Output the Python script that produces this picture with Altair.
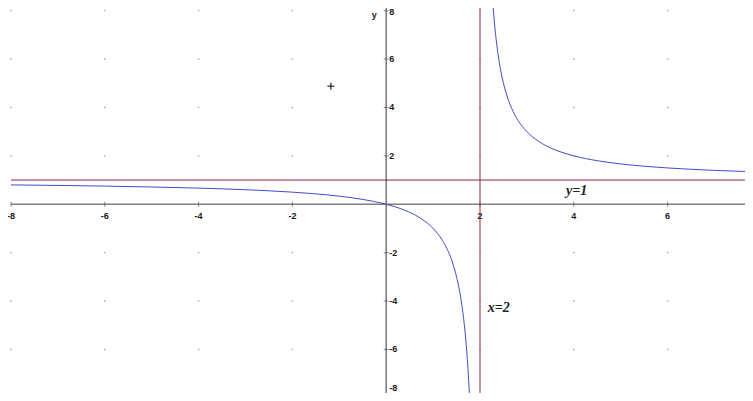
import altair as alt
import pandas as pd

# ---- data ----
left_x = [-8, -7, -6, -5, -4, -3, -2, -1.5, -1, -0.5, 0, 0.25, 0.5, 0.75, 1.0, 1.2, 1.4, 1.5,
          1.6, 1.65, 1.7, 1.73, 1.76, 1.78]
left_y = [0.8, 0.778, 0.75, 0.714, 0.667, 0.6, 0.5, 0.429, 0.333, 0.2, 0.0, -0.143, -0.333, -0.6,
          -1.0, -1.5, -2.333, -3.0, -4.0, -4.714, -5.667, -6.407, -7.333, -8.09]
right_x = [2.28, 2.3, 2.33, 2.36, 2.4, 2.45, 2.5, 2.6, 2.75, 3.0, 3.25, 3.5, 4.0, 4.5, 5.0, 5.5,
           6.0, 6.5, 7.0, 7.65]
right_y = [8.14, 7.667, 7.061, 6.556, 6.0, 5.444, 5.0, 4.333, 3.667, 3.0, 2.6, 2.333, 2.0, 1.8,
           1.667, 1.571, 1.5, 1.444, 1.4, 1.354]
x_ticks = [-8, -6, -4, -2, 2, 4, 6]
y_ticks = [-8, -6, -4, -2, 2, 4, 6, 8]
asym_h = 1
asym_v = 2
marker = (-1.18, 4.88)
notes = [("y=1", 4.06, 0.54), ("x=2", 2.40, -4.30)]

XMIN, XMAX = -8.064, 7.65
YMIN, YMAX = -7.80, 8.11

xs = alt.Scale(domain=[XMIN, XMAX], nice=False, zero=False)
ys = alt.Scale(domain=[YMIN, YMAX], nice=False, zero=False)


def X(f="x"):
    return alt.X(f"{f}:Q", scale=xs, axis=None)


def Y(f="y"):
    return alt.Y(f"{f}:Q", scale=ys, axis=None)


grid = pd.DataFrame([{"x": gx, "y": gy} for gx in x_ticks for gy in y_ticks])
curve = pd.DataFrame(
    [{"x": a, "y": b, "branch": "L", "o": i} for i, (a, b) in enumerate(zip(left_x, left_y))]
    + [{"x": a, "y": b, "branch": "R", "o": i} for i, (a, b) in enumerate(zip(right_x, right_y))]
)
xt = pd.DataFrame({"x": x_ticks, "y": [0] * len(x_ticks), "t": [str(v) for v in x_ticks]})
yt = pd.DataFrame({"x": [0] * len(y_ticks), "y": y_ticks, "t": [str(v) for v in y_ticks]})
# labels: inner ones centred on their tick, edge ones kept inside the view
yt_mid = yt[(yt.y > YMIN) & (yt.y < YMAX - 0.3)]
yt_top = yt[yt.y >= YMAX - 0.3]
yt_bot = yt[yt.y <= YMIN].assign(y=lambda d: d.y.clip(lower=YMIN))

dots = alt.Chart(grid).mark_square(size=2, color="#9a9a9a", opacity=0.9).encode(x=X(), y=Y())

axis_color = "#7f7f7f"
x_axis = alt.Chart(pd.DataFrame({"x": [-8], "x2": [XMAX], "y": [0]})).mark_rule(
    color=axis_color, strokeWidth=1.6).encode(x=X(), x2="x2:Q", y=Y())
y_axis = alt.Chart(pd.DataFrame({"x": [0]})).mark_rule(
    color=axis_color, strokeWidth=1.6).encode(x=X())

x_tick_marks = alt.Chart(xt).mark_tick(orient="vertical", size=5, thickness=1, color="#555").encode(
    x=X(), y=Y())
y_tick_marks = alt.Chart(yt).mark_tick(orient="horizontal", size=5, thickness=1, color="#555").encode(
    x=X(), y=Y())

lab = dict(font="Liberation Sans", fontSize=9, fontWeight="bold", color="#1a1a1a")
x_labels = alt.Chart(xt).mark_text(dy=12, baseline="middle", align="center", **lab).encode(
    x=X(), y=Y(), text="t:N")
y_labels = alt.Chart(yt_mid).mark_text(dx=3, baseline="middle", align="left", **lab).encode(
    x=X(), y=Y(), text="t:N")
y_labels_top = alt.Chart(yt_top).mark_text(dx=3, dy=-3, baseline="top", align="left", **lab).encode(
    x=X(), y=Y(), text="t:N")
y_labels_bot = alt.Chart(yt_bot).mark_text(dx=3, dy=0, baseline="bottom", align="left", **lab).encode(
    x=X(), y=Y(), text="t:N")
y_name = alt.Chart(pd.DataFrame({"x": [0], "y": [8], "t": ["y"]})).mark_text(
    dx=-12, dy=4, baseline="middle", align="center", **lab).encode(x=X(), y=Y(), text="t:N")

red = "#8b2c3c"
h_asym = alt.Chart(pd.DataFrame({"x": [-8], "x2": [XMAX], "y": [asym_h]})).mark_rule(
    color=red, strokeWidth=1).encode(x=X(), x2="x2:Q", y=Y())
v_asym = alt.Chart(pd.DataFrame({"x": [asym_v]})).mark_rule(color=red, strokeWidth=1).encode(x=X())

lines = alt.Chart(curve).mark_line(color="#4848c4", strokeWidth=1, interpolate="monotone",
                                   clip=True).encode(
    x=X(), y=Y(), detail="branch:N", order="o:Q")

plus = alt.Chart(pd.DataFrame({"x": [marker[0]], "y": [marker[1]]})).mark_point(
    shape="M -1 0 L 1 0 M 0 -1 L 0 1", size=49, stroke="#000", strokeWidth=1, filled=False,
    opacity=1).encode(x=X(), y=Y())

note_df = pd.DataFrame([{"t": t, "x": a, "y": b} for t, a, b in notes])
note_text = alt.Chart(note_df).mark_text(font="Liberation Serif", fontSize=14, fontStyle="italic",
                                         fontWeight="bold", color="#222", align="center",
                                         baseline="middle").encode(x=X(), y=Y(), text="t:N")

chart = alt.layer(
    dots, x_axis, y_axis, x_tick_marks, y_tick_marks, x_labels, y_labels, y_labels_top,
    y_labels_bot, y_name, h_asym, v_asym, lines, plus, note_text
).properties(
    width=737, height=385, padding=0,
    autosize=alt.AutoSizeParams(type="none"),
    background="#ffffff",
).configure_view(strokeWidth=0)

chart.save("out.html", embed_options={"renderer": "svg", "actions": False})
